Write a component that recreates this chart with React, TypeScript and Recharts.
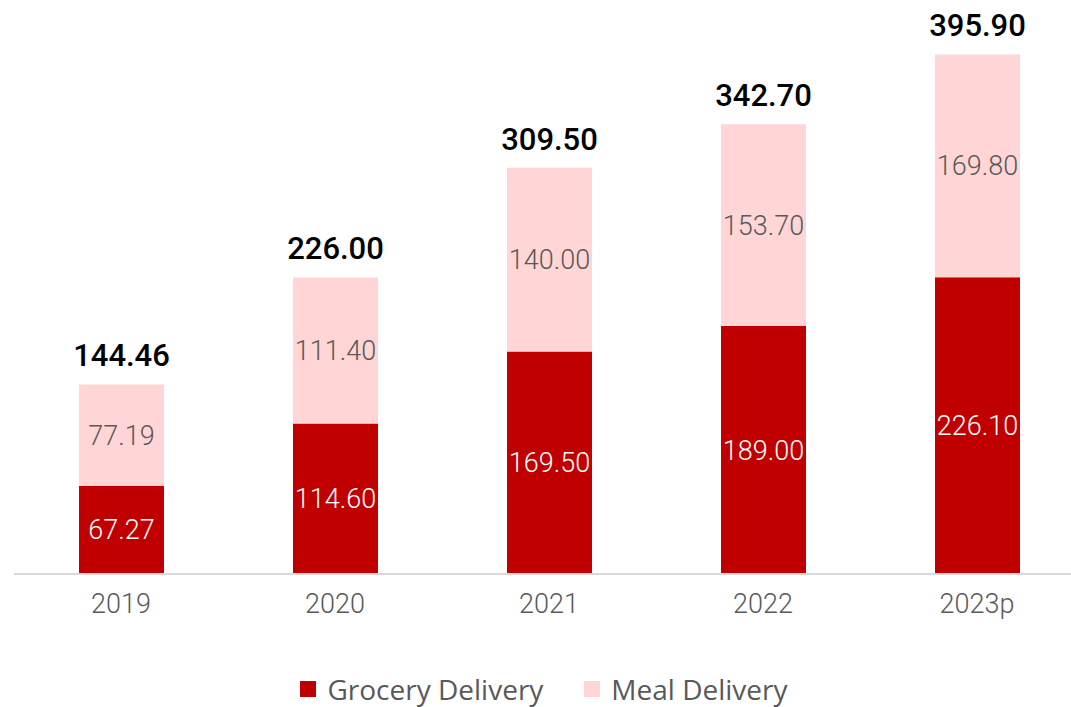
import React from 'react';
import { BarChart, Bar, XAxis, YAxis, Legend, LabelList } from 'recharts';

const years = ['2019', '2020', '2021', '2022', '2023p'];
const grocery = [67.27, 114.6, 169.5, 189.0, 226.1];
const meal = [77.19, 111.4, 140.0, 153.7, 169.8];
const totals = [144.46, 226.0, 309.5, 342.7, 395.9];

const GROCERY_COLOR = '#C00000';
const MEAL_COLOR = '#FFD5D5';

const data = years.map((year, i) => ({
  year,
  grocery: grocery[i],
  meal: meal[i],
  total: totals[i],
}));

const fmt = (v: any) => Number(v).toFixed(2);

const TotalLabel = (props: any) => {
  const { x, y, width, index } = props;
  return (
    <text
      x={x + width / 2}
      y={y - 18}
      textAnchor="middle"
      fill="#000"
      fontSize={31}
      fontWeight={500}
      fontFamily="Roboto"
    >
      {fmt(totals[index])}
    </text>
  );
};

const LegendContent = () => (
  <div
    style={{
      display: 'flex',
      justifyContent: 'center',
      alignItems: 'center',
      height: 34,
      fontFamily: '"Open Sans", sans-serif',
      fontSize: 28,
      color: '#595959',
      paddingRight: 10,
    }}
  >
    <span style={{ display: 'inline-block', width: 16, height: 16, background: GROCERY_COLOR, marginRight: 11 }} />
    <span style={{ marginRight: 41 }}>Grocery Delivery</span>
    <span style={{ display: 'inline-block', width: 16, height: 16, background: MEAL_COLOR, marginRight: 11 }} />
    <span>Meal Delivery</span>
  </div>
);

export default function App() {
  return (
    <div style={{ position: 'absolute', left: 0, top: 0, background: '#fff' }}>
      <BarChart
        width={1071}
        height={707}
        data={data}
        margin={{ top: 49, right: -13, left: 14, bottom: 1 }}
        barSize={85}
      >
        <XAxis
          dataKey="year"
          axisLine={{ stroke: '#D9D9D9', strokeWidth: 2 }}
          tickLine={false}
          height={98}
          tick={{ fill: '#595959', fontSize: 27, fontFamily: 'Roboto', fontWeight: 300 }}
          tickMargin={14}
        />
        <YAxis hide domain={[0, 400]} />
        <Legend verticalAlign="bottom" content={<LegendContent />} />
        <Bar dataKey="grocery" stackId="a" fill={GROCERY_COLOR} isAnimationActive={false}>
          <LabelList
            dataKey="grocery"
            position="center"
            formatter={fmt}
            fill="#FFFFFF"
            fontSize={27}
            fontFamily="Roboto"
            fontWeight={300}
          />
        </Bar>
        <Bar dataKey="meal" stackId="a" fill={MEAL_COLOR} isAnimationActive={false}>
          <LabelList
            dataKey="meal"
            position="center"
            formatter={fmt}
            fill="#595959"
            fontSize={27}
            fontFamily="Roboto"
            fontWeight={300}
          />
          <LabelList dataKey="total" content={<TotalLabel />} />
        </Bar>
      </BarChart>
    </div>
  );
}
